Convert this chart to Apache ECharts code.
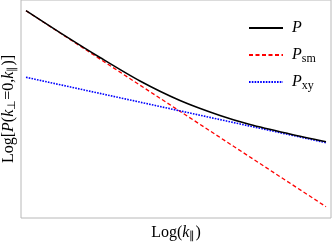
<!DOCTYPE html>
<html><head><meta charset="utf-8">
<script src="https://cdn.jsdelivr.net/npm/echarts@6/dist/echarts.min.js"></script>
<style>html,body{margin:0;padding:0;background:#fff}#c{width:332px;height:242px}</style>
</head><body><div id="c"></div>
<script>
// log(k_par) in arbitrary units
var xP = [0, 1.133, 2.467, 3.8, 5.133, 6.467, 7.467, 8.8, 10];
var yP = [207.3, 185.4, 160.5, 137, 117.5, 102.5, 93.5, 84, 76.2];
var xSm = [0, 10];
var ySm = [207.3, 11.3];
var xXy = [0, 10];
var yXy = [140.7, 75.3];
var names = ['P', 'Psm', 'Pxy'];

function pairs(xs, ys){ return xs.map(function(x,i){return [x, ys[i]];}); }
var font = 'Liberation Serif';
var rich = {
  i: {fontFamily: font, fontStyle: 'italic', fontSize: 16, color: '#000', padding: [0,0,0,4]},
  s: {fontFamily: font, fontSize: 12, color: '#000', padding: [7,0,0,0]},
  n: {fontFamily: font, fontSize: 16, color: '#000'},
  ni: {fontFamily: font, fontSize: 16, fontStyle: 'italic', color: '#000'},
  ns: {fontFamily: font, fontSize: 11, color: '#000', padding: [7,0,0,0]}
};
function legendFmt(n){
  if (n === 'P') return '{i|P}';
  if (n === 'Psm') return '{i|P}{s|sm}';
  return '{i|P}{s|xy}';
}
var chart = echarts.init(document.getElementById('c'));
var legendTops = [15, 42, 69];
chart.setOption({
  animation: false,
  grid: {left: 21, top: 0, width: 310, height: 218, show: true, borderColor: '#b8b8b8', borderWidth: 1,
    containLabel: false, outerBoundsMode: 'none'},
  xAxis: {type: 'value', min: -1/6, max: 10 + 1/6, axisLine: {show: false}, axisTick: {show: false},
    axisLabel: {show: false}, splitLine: {show: false},
    name: '{n|Log(}{ni|k}{ns|∥}{n|)}', nameLocation: 'middle', nameGap: 6,
    nameTextStyle: {rich: rich}},
  yAxis: {type: 'value', min: 0, max: 218, axisLine: {show: false}, axisTick: {show: false},
    axisLabel: {show: false}, splitLine: {show: false},
    name: '{n|Log[}{ni|P}{n|(}{ni|k}{ns|⊥}{n|=0,}{ni|k}{ns|∥}{n|)]}', nameLocation: 'middle', nameGap: 3,
    nameTextStyle: {rich: rich}},
  legend: names.map(function(n, i){
    return {data: [n], left: 243, top: legendTops[i], itemWidth: 34, itemHeight: 14, itemGap: 8,
      itemStyle: {opacity: 0}, formatter: legendFmt, textStyle: {rich: rich}};
  }),
  series: [
    {name: 'P', type: 'line', data: pairs(xP, yP), smooth: 0.3, symbol: 'none', z: 3,
      lineStyle: {color: '#000', width: 1.5}, itemStyle: {color: '#000'}},
    {name: 'Psm', type: 'line', data: pairs(xSm, ySm), symbol: 'none', z: 2,
      lineStyle: {color: '#ff0000', width: 1.3, type: [4, 2.5]}, itemStyle: {color: '#ff0000'}},
    {name: 'Pxy', type: 'line', data: pairs(xXy, yXy), symbol: 'none', z: 2,
      lineStyle: {color: '#0000ff', width: 1.6, type: [1.6, 1.2]}, itemStyle: {color: '#0000ff'}}
  ]
});
</script></body></html>
